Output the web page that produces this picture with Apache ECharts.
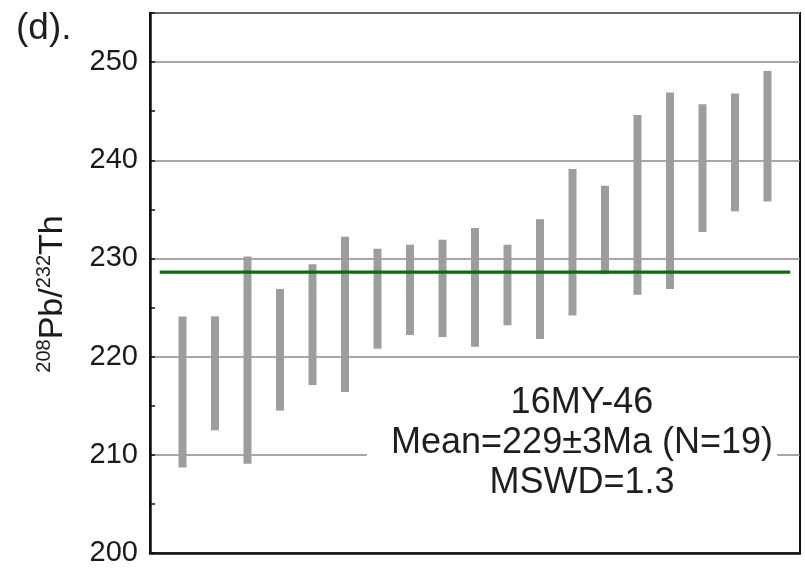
<!DOCTYPE html>
<html>
<head>
<meta charset="utf-8">
<script src="https://cdn.jsdelivr.net/npm/echarts@6/dist/echarts.min.js"></script>
<style>
  html, body { margin: 0; padding: 0; background: #fff; }
  #chart { width: 805px; height: 569px; }
</style>
</head>
<body>
<div id="chart"></div>
<script>
// ---- data ----
const analysisIndex = [1, 2, 3, 4, 5, 6, 7, 8, 9, 10, 11, 12, 13, 14, 15, 16, 17, 18, 19];
const lowerAge = [208.7, 212.5, 209.1, 214.5, 217.1, 216.4, 220.8, 222.2, 222.0, 221.0, 223.2, 221.8, 224.2, 228.4, 226.3, 226.9, 232.7, 234.8, 235.8];
const upperAge = [224.1, 224.1, 230.2, 226.9, 229.4, 232.2, 231.0, 231.4, 231.9, 233.1, 231.4, 234.0, 239.1, 237.4, 244.6, 246.9, 245.7, 246.8, 249.1];
const meanAge = 228.6;
const yTicks = [200, 210, 220, 230, 240, 250];
const annotation = ['16MY-46', 'Mean=229±3Ma (N=19)', 'MSWD=1.3'];

const FONT = '"Liberation Sans", Arial, Helvetica, sans-serif';
const barData = analysisIndex.map((x, i) => [x, lowerAge[i], upperAge[i]]);

const chart = echarts.init(document.getElementById('chart'), null, { renderer: 'canvas' });
chart.setOption({
  animation: false,
  backgroundColor: '#fff',
  grid: {
    left: 150, right: 5, top: 13, bottom: 16,
    show: true, borderColor: '#111', borderWidth: 2, backgroundColor: 'transparent'
  },
  xAxis: {
    type: 'value', min: 0, max: 20,
    axisLine: { show: true, onZero: false, lineStyle: { color: '#111', width: 2.5 } },
    axisTick: { show: false }, axisLabel: { show: false }, splitLine: { show: false }
  },
  yAxis: {
    type: 'value', min: yTicks[0], max: 255, interval: 10,
    name: '{sup|208}{b|Pb/}{sup|232}{b|Th}',
    nameLocation: 'middle', nameRotate: 90, nameGap: 80,
    nameTextStyle: {
      color: '#1a1a1a', fontFamily: FONT, padding: [0, 22, 0, 0],
      rich: {
        b: { fontSize: 34, lineHeight: 36, fontFamily: FONT, color: '#1a1a1a', verticalAlign: 'bottom' },
        sup: { fontSize: 20, lineHeight: 21, fontFamily: FONT, color: '#1a1a1a', verticalAlign: 'top' }
      }
    },
    axisLine: { show: true, onZero: false, lineStyle: { color: '#111', width: 2.5 } },
    axisTick: { show: true, inside: true, length: 5, lineStyle: { color: '#111', width: 1.5 } },
    minorTick: { show: true, splitNumber: 2, length: 5, lineStyle: { color: '#111', width: 1.5 } },
    axisLabel: {
      color: '#1a1a1a', fontSize: 29, fontFamily: FONT, margin: 12, showMaxLabel: false,
      formatter: v => (yTicks.indexOf(v) >= 0 ? String(v) : '')
    },
    splitLine: { show: true, lineStyle: { color: '#8a8a8a', width: 1.5 } }
  },
  series: [
    {
      type: 'custom',
      data: barData,
      encode: { x: 0, y: [1, 2] },
      z: 3,
      renderItem: function (params, api) {
        const x = api.value(0);
        const top = api.coord([x, api.value(2)]);
        const bot = api.coord([x, api.value(1)]);
        return {
          type: 'rect',
          shape: { x: top[0] - 4, y: top[1], width: 8, height: bot[1] - top[1] },
          style: { fill: '#9d9d9d' }
        };
      }
    },
    {
      type: 'line',
      data: [[0.3, meanAge], [19.7, meanAge]],
      symbol: 'none', z: 4,
      lineStyle: { color: '#0b6a14', width: 3.2 }
    }
  ],
  graphic: [
    {
      type: 'rect', z: 10,
      shape: { x: 367, y: 382, width: 410, height: 120 },
      style: { fill: '#fff' }
    },
    {
      type: 'text', z: 11,
      x: 582, y: 443,
      style: {
        text: annotation.join('\n'),
        font: '36px ' + FONT,
        fill: '#1e1e1e',
        align: 'center', verticalAlign: 'middle', lineHeight: 40
      }
    },
    {
      type: 'text', z: 11,
      x: 16, y: 29,
      style: {
        text: '(d).',
        font: '37px ' + FONT,
        fill: '#1e1e1e',
        align: 'left', verticalAlign: 'middle'
      }
    }
  ]
});
</script>
</body>
</html>
